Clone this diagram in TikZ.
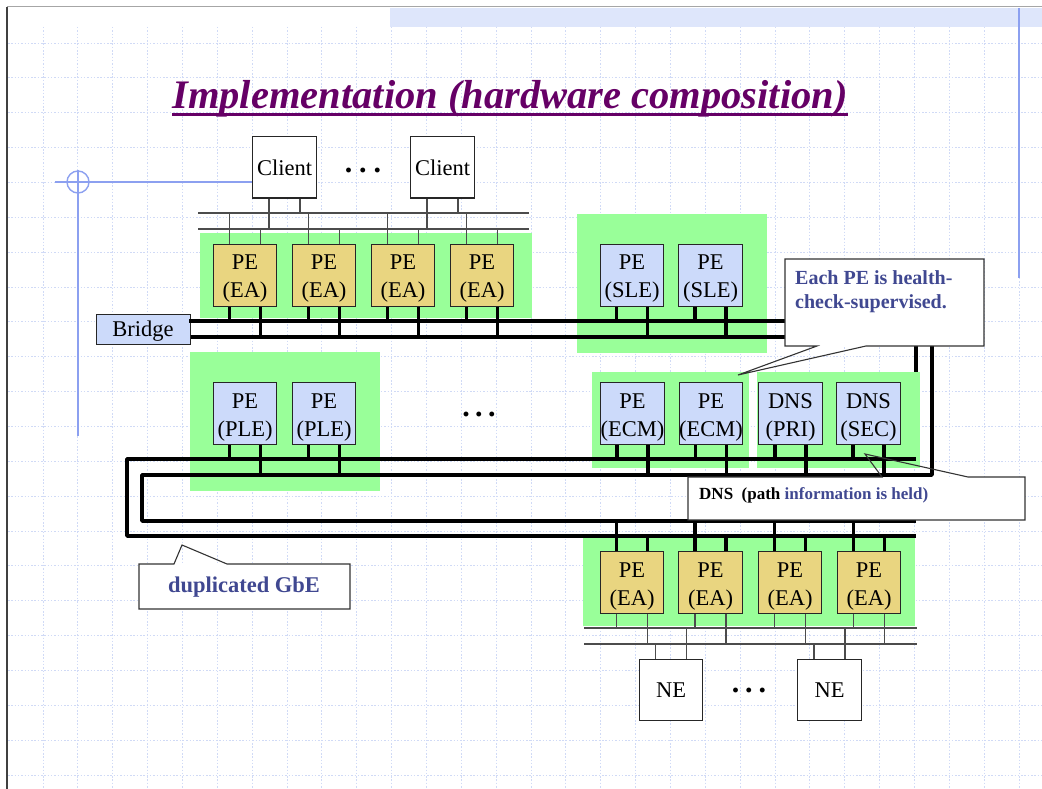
\documentclass[tikz,border=0pt]{standalone}
\usepackage{fontspec}
\setmainfont{Liberation Serif}
\definecolor{zonegreen}{RGB}{153,255,153}
\definecolor{eafill}{RGB}{233,213,128}
\definecolor{paleblue}{RGB}{204,218,250}
\definecolor{noteblue}{RGB}{64,72,145}
\definecolor{titlepurple}{RGB}{102,0,102}
\definecolor{gridblue}{RGB}{208,218,246}
\definecolor{rulerblue}{RGB}{140,160,240}
\definecolor{bandblue}{RGB}{222,230,251}
% two-line unit label, first line pushed down a little inside the box
\newcommand\unitlabel[2]{\rule{0pt}{22pt}#1\\#2}
\begin{document}
\begin{tikzpicture}[x=1pt,y=-1pt,
  gridline/.style={draw=gridblue, line width=0.9pt, dash pattern=on 1.5pt off 1.8pt},
  unitbox/.style={draw=black!85, line width=1pt, minimum width=63.5pt, minimum height=62pt,
    inner sep=0pt, align=center, font=\fontsize{22.5}{28}\selectfont},
  eabox/.style={unitbox, fill=eafill},
  palebox/.style={unitbox, fill=paleblue},
  hostbox/.style={draw=black!85, line width=1pt, fill=white, minimum width=63.5pt,
    minimum height=61pt, inner sep=0pt, font=\fontsize{22.5}{27}\selectfont},
  zone/.style={fill=zonegreen},
  lan/.style={draw=black!70, line width=1.2pt},
  gbe/.style={draw=black, line width=3.8pt, line join=round},
  tap/.style={draw=black, line width=3.8pt},
  thintap/.style={draw=black!70, line width=1.2pt},
  note/.style={draw=black!80, line width=1.1pt},
  ruler/.style={draw=rulerblue, line width=1.4pt},
  ellipsis/.style={font=\fontsize{30}{30}\selectfont\bfseries, inner sep=0pt, anchor=base},
]
\useasboundingbox (0,0) rectangle (1042,789);
\fill[white] (0,0) rectangle (1042,789);

% page frame and header band
\fill[bandblue] (390,8) rectangle (1042,27);
\draw[black!35, line width=1pt] (7,7) -- (1042,7);
\draw[black!75, line width=1.3pt] (7,7) -- (7,789);

% dotted background grid
\foreach \k in {0,...,28} \draw[gridline] ({43+34.86*\k},27) -- ({43+34.86*\k},789);
\foreach \k in {0,...,21} \draw[gridline] (8,{43+34.86*\k}) -- (1042,{43+34.86*\k});

% right ruler line
\draw[ruler] (1019,8) -- (1019,278);

% bus reference levels
\coordinate (gA) at (0,321);
\coordinate (gB) at (0,337);
\coordinate (rA) at (0,459);
\coordinate (rB) at (0,475);
\coordinate (rB2) at (0,521);
\coordinate (rA2) at (0,536);
\coordinate (lanA) at (0,213);
\coordinate (lanB) at (0,229);
\coordinate (lanC) at (0,628);
\coordinate (lanD) at (0,644);
\coordinate (eA1) at (916,321);
\coordinate (eA2) at (916,459);
\coordinate (eB1) at (932,337);
\coordinate (eB2) at (932,475);

% riser of the first GbE line (runs behind the DNS zone)
\draw[gbe] (eA1) -- (eA2);

% green zones
\fill[zone] (200,233) rectangle (532,318);
\fill[zone] (577,214) rectangle (767,353);
\fill[zone] (190,352) rectangle (380,491);
\fill[zone] (592,372) rectangle (749,468);
\fill[zone] (757,372) rectangle (920,468);
\fill[zone] (583,538) rectangle (915,626);

% clients
\node[hostbox] (c1) at (284.5,167.5) {Client};
\node[hostbox] (c2) at (442.5,167.5) {Client};
\node[ellipsis] (dotsC) at (363,172) {.\kern7pt.\kern7pt.};

% processing elements
\node[eabox] (t1) at (245,275) {\unitlabel{PE}{(EA)}};
\node[eabox] (t2) at (324,275) {\unitlabel{PE}{(EA)}};
\node[eabox] (t3) at (403,275) {\unitlabel{PE}{(EA)}};
\node[eabox] (t4) at (482,275) {\unitlabel{PE}{(EA)}};
\node[palebox] (s1) at (632,275) {\unitlabel{PE}{(SLE)}};
\node[palebox] (s2) at (710.5,275) {\unitlabel{PE}{(SLE)}};
\node[palebox] (p1) at (245,413.5) {\unitlabel{PE}{(PLE)}};
\node[palebox] (p2) at (324,413.5) {\unitlabel{PE}{(PLE)}};
\node[ellipsis] (dotsM) at (479,416) {.\kern5.5pt.\kern5.5pt.};
\node[palebox] (e1) at (632.5,413.5) {\unitlabel{PE}{(ECM)}};
\node[palebox] (e2) at (711,413.5) {\unitlabel{PE}{(ECM)}};
\node[palebox] (d1) at (790.5,413.5) {\unitlabel{DNS}{(PRI)}};
\node[palebox] (d2) at (868.5,413.5) {\unitlabel{DNS}{(SEC)}};
\node[eabox] (b1) at (632,582.5) {\unitlabel{PE}{(EA)}};
\node[eabox] (b2) at (710.5,582.5) {\unitlabel{PE}{(EA)}};
\node[eabox] (b3) at (790,582.5) {\unitlabel{PE}{(EA)}};
\node[eabox] (b4) at (869,582.5) {\unitlabel{PE}{(EA)}};

% network elements
\node[hostbox] (n1) at (671,690) {NE};
\node[hostbox] (n2) at (829.5,690) {NE};
\node[ellipsis] (dotsN) at (749,692) {.\kern5.8pt.\kern5.8pt.};

% bridge
\node[draw=black!85, line width=1pt, fill=paleblue, minimum width=94pt, minimum height=30pt,
  inner sep=0pt, text depth=0pt, font=\fontsize{22.5}{27}\selectfont] (bridge) at (143,329) {Bridge};

% client-side and NE-side LANs
\draw[lan] (198,213) -- (529,213);
\draw[lan] (198,229) -- (529,229);
\draw[lan] (584,628) -- (917,628);
\draw[lan] (584,644) -- (917,644);

% duplicated GbE
\draw[gbe, line cap=rect] (bridge.east |- gA) -- (eA1);
\draw[gbe] (eA2) -- (127,459) -- (127,536) -- (916,536);
\draw[gbe] (bridge.east |- gB) -- (eB1) -- (eB2) -- (142,475) -- (142,521) -- (916,521);

% drops to the buses
\foreach \n in {t1,t2,t3,t4,s1,s2} {
  \draw[tap] ([xshift=-15.5pt]\n.south) -- ([xshift=-15.5pt]\n.south |- gA);
  \draw[tap] ([xshift=15.5pt]\n.south) -- ([xshift=15.5pt]\n.south |- gB);
}
\foreach \n in {p1,p2,e1,e2,d1,d2} {
  \draw[tap] ([xshift=-15.5pt]\n.south) -- ([xshift=-15.5pt]\n.south |- rA);
  \draw[tap] ([xshift=15.5pt]\n.south) -- ([xshift=15.5pt]\n.south |- rB);
}
\foreach \n in {b1,b2,b3,b4} {
  \draw[tap] ([xshift=-15.5pt]\n.north) -- ([xshift=-15.5pt]\n.north |- rB2);
  \draw[tap] ([xshift=15.5pt]\n.north) -- ([xshift=15.5pt]\n.north |- rA2);
  \draw[thintap] ([xshift=-15.5pt]\n.south) -- ([xshift=-15.5pt]\n.south |- lanC);
  \draw[thintap] ([xshift=15.5pt]\n.south) -- ([xshift=15.5pt]\n.south |- lanD);
}
\foreach \n in {t1,t2,t3,t4} {
  \draw[thintap] ([xshift=-15.5pt]\n.north) -- ([xshift=-15.5pt]\n.north |- lanA);
  \draw[thintap] ([xshift=15.5pt]\n.north) -- ([xshift=15.5pt]\n.north |- lanB);
}
\foreach \n in {c1,c2} {
  \draw[thintap] ([xshift=-15.5pt]\n.south) -- ([xshift=-15.5pt]\n.south |- lanB);
  \draw[thintap] ([xshift=15.5pt]\n.south) -- ([xshift=15.5pt]\n.south |- lanA);
}
\foreach \n in {n1,n2} {
  \draw[thintap] ([xshift=-15.5pt]\n.north) -- ([xshift=-15.5pt]\n.north |- lanD);
  \draw[thintap] ([xshift=15.5pt]\n.north) -- ([xshift=15.5pt]\n.north |- lanC);
}

% left ruler cross
\coordinate (cross) at (78,182);
\draw[ruler] (55,182) -- (c1.west |- cross);
\draw[ruler] (78,170) -- (78,436);
\draw[ruler] (cross) circle[radius=11];

% callout: health check
\fill[white] (785,259) rectangle (984,346);
\draw[note] (866,346) -- (984,346) -- (984,259) -- (785,259) -- (785,346) -- (817,346) -- (738,375) -- cycle;
\node[anchor=north west, inner sep=0pt, align=left, text=noteblue,
  font=\fontsize{20}{24.5}\selectfont\bfseries] (hctext) at (795,270.4)
  {Each PE is health-\\check-supervised.};

% callout: DNS
\fill[white] (688,477) rectangle (1025,520);
\draw[note] (688,477) -- (882,477) -- (865,454) -- (968,477) -- (1025,477) -- (1025,520) -- (688,520) -- cycle;
\node[anchor=base west, inner sep=0pt, font=\fontsize{17}{20}\selectfont\bfseries] (dnstext)
  at (699,499.5) {DNS\ \ (path \textcolor{noteblue}{information is held)}};

% callout: duplicated GbE
\fill[white] (139,564) rectangle (350,609);
\draw[note] (139,564) -- (174,564) -- (182,545) -- (227,564) -- (350,564) -- (350,609) -- (139,609) -- cycle;
\node[anchor=base, inner sep=0pt, text=noteblue, font=\fontsize{22.5}{26}\selectfont\bfseries]
  (gbetext) at (244,592) {duplicated GbE};

% title
\node[anchor=base, inner sep=0pt, text=titlepurple, font=\fontsize{40.5}{48}\selectfont\bfseries\itshape]
  (title) at (510,108.3) {Implementation (hardware composition)};
\draw[titlepurple, line width=2.7pt] ([yshift=-6.4pt]title.base west) -- ([yshift=-6.4pt]title.base east);
\end{tikzpicture}
\end{document}
